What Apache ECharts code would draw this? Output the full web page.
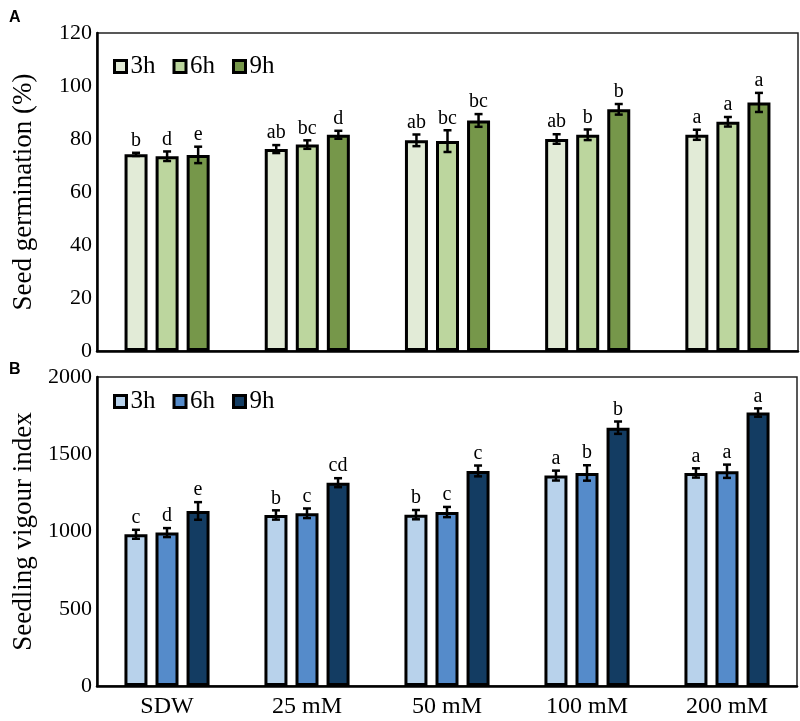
<!DOCTYPE html>
<html>
<head>
<meta charset="utf-8">
<script src="https://cdn.jsdelivr.net/npm/echarts@6/dist/echarts.min.js"></script>
<style>
  html, body { margin: 0; padding: 0; background: #fff; }
  #chart { width: 800px; height: 721px; }
</style>
</head>
<body>
<div id="chart"></div>
<script>
const categories = ['SDW', '25 mM', '50 mM', '100 mM', '200 mM'];
const seriesNames = ['3h', '6h', '9h'];

const germ3h = [74.2, 76.2, 79.5, 80.0, 81.6];
const germ6h = [73.5, 77.9, 79.2, 81.6, 86.5];
const germ9h = [74.0, 81.6, 87.0, 91.2, 93.8];
const germErr3h = [0.6, 1.5, 2.2, 1.8, 1.9];
const germErr6h = [1.8, 1.6, 4.1, 2.0, 1.8];
const germErr9h = [3.1, 1.5, 2.4, 2.0, 3.6];
const germSig3h = ['b', 'ab', 'ab', 'ab', 'a'];
const germSig6h = ['d', 'bc', 'bc', 'b', 'a'];
const germSig9h = ['e', 'd', 'bc', 'b', 'a'];

const vig3h = [982, 1107, 1109, 1362, 1379];
const vig6h = [993, 1118, 1126, 1379, 1390];
const vig9h = [1133, 1316, 1392, 1672, 1770];
const vigErr3h = [29, 30, 30, 32, 30];
const vigErr6h = [29, 31, 33, 50, 43];
const vigErr9h = [57, 29, 35, 40, 27];
const vigSig3h = ['c', 'b', 'b', 'a', 'a'];
const vigSig6h = ['d', 'c', 'c', 'b', 'a'];
const vigSig9h = ['e', 'cd', 'c', 'b', 'a'];

const germTicks = { min: 0, max: 120, interval: 20 };
const vigTicks = { min: 0, max: 2000, interval: 500 };

const greenColors = ['#e2ebd7', '#bcd69e', '#76974a'];
const blueColors = ['#b8d2eb', '#558bca', '#133c62'];

const SERIF = '"Liberation Serif", "Times New Roman", serif';
const BAR_W = 23;
const BAR_GAP = 0.35;
const STEP = BAR_W * (1 + BAR_GAP);

const chart = echarts.init(document.getElementById('chart'));

function barSeries(prefix, gridIdx, values, color) {
  return {
    type: 'bar',
    name: prefix + '-' + seriesNames[values.idx],
    xAxisIndex: gridIdx, yAxisIndex: gridIdx,
    data: values.data,
    barWidth: BAR_W,
    barGap: (BAR_GAP * 100) + '%',
    itemStyle: { color: color, borderColor: '#000', borderWidth: 3 },
    z: 2
  };
}

function errSeries(gridIdx, means, errs, sigs, seriesIdx) {
  const data = means.map((v, i) => [i, v, errs[i], sigs[i]]);
  return {
    type: 'custom',
    xAxisIndex: gridIdx, yAxisIndex: gridIdx,
    data: data,
    clip: false,
    z: 5,
    encode: { x: 0, y: 1 },
    renderItem: function (params, api) {
      const cat = api.value(0);
      const mean = api.value(1);
      const err = api.value(2);
      const off = (seriesIdx - 1) * STEP;
      const hi = api.coord([cat, mean + err]);
      const lo = api.coord([cat, mean - err]);
      const x = hi[0] + off;
      const cap = 4;
      const ls = { stroke: '#000', lineWidth: 2.5 };
      return {
        type: 'group',
        children: [
          { type: 'line', shape: { x1: x, y1: hi[1], x2: x, y2: lo[1] }, style: ls },
          { type: 'line', shape: { x1: x - cap, y1: hi[1], x2: x + cap, y2: hi[1] }, style: ls },
          { type: 'line', shape: { x1: x - cap, y1: lo[1], x2: x + cap, y2: lo[1] }, style: ls },
          { type: 'text', style: { text: data[params.dataIndex][3], x: x, y: hi[1] - 2, align: 'center', verticalAlign: 'bottom', font: '20px ' + SERIF, fill: '#000' } }
        ]
      };
    }
  };
}

const germSets = [germ3h, germ6h, germ9h];
const germErrs = [germErr3h, germErr6h, germErr9h];
const germSigs = [germSig3h, germSig6h, germSig9h];
const vigSets = [vig3h, vig6h, vig9h];
const vigErrs = [vigErr3h, vigErr6h, vigErr9h];
const vigSigs = [vigSig3h, vigSig6h, vigSig9h];

const series = [];
germSets.forEach((d, i) => series.push(barSeries('A', 0, { idx: i, data: d }, greenColors[i])));
vigSets.forEach((d, i) => series.push(barSeries('B', 1, { idx: i, data: d }, blueColors[i])));
germSets.forEach((d, i) => series.push(errSeries(0, d, germErrs[i], germSigs[i], i)));
vigSets.forEach((d, i) => series.push(errSeries(1, d, vigErrs[i], vigSigs[i], i)));

function legend(prefix, top) {
  return {
    data: seriesNames.map(n => prefix + '-' + n),
    formatter: name => name.slice(2),
    left: 113, top: top,
    icon: 'rect',
    itemWidth: 12, itemHeight: 12,
    itemGap: 17,
    padding: 0,
    selectedMode: false,
    itemStyle: { borderColor: '#000', borderWidth: 3 },
    textStyle: { fontFamily: SERIF, fontSize: 25, color: '#000', padding: [0, 0, 0, -1] }
  };
}

function yAxis(gridIdx, t, name) {
  return {
    type: 'value', gridIndex: gridIdx,
    min: t.min, max: t.max, interval: t.interval,
    name: name, nameLocation: 'middle', nameGap: 60,
    nameTextStyle: { fontFamily: SERIF, fontSize: 27, color: '#000' },
    axisLine: { show: true, lineStyle: { color: '#000', width: 2.5 } },
    axisTick: { show: false },
    splitLine: { show: false },
    axisLabel: { fontFamily: SERIF, fontSize: 22, color: '#000', margin: 5, formatter: v => String(v) }
  };
}

function xAxis(gridIdx, showLabels) {
  return {
    type: 'category', gridIndex: gridIdx, data: categories,
    axisLine: { show: true, lineStyle: { color: '#000', width: 2.5 } },
    axisTick: { show: false },
    axisLabel: { show: showLabels, fontFamily: SERIF, fontSize: 24, color: '#000', margin: 9 }
  };
}

const option = {
  animation: false,
  backgroundColor: '#fff',
  title: [
    { text: 'A', left: 4, top: 5, textStyle: { fontFamily: '"Liberation Sans", Arial, sans-serif', fontWeight: 'bold', fontSize: 16, color: '#000' } },
    { text: 'B', left: 4, top: 357, textStyle: { fontFamily: '"Liberation Sans", Arial, sans-serif', fontWeight: 'bold', fontSize: 16, color: '#000' } }
  ],
  legend: [legend('A', 54), legend('B', 389)],
  grid: [
    { left: 97, right: 2, top: 33, height: 318, show: true, borderColor: '#222', borderWidth: 1.5 },
    { left: 97, right: 3, top: 377, height: 309, show: true, borderColor: '#222', borderWidth: 1.5 }
  ],
  xAxis: [xAxis(0, false), xAxis(1, true)],
  yAxis: [yAxis(0, germTicks, 'Seed germination (%)'), yAxis(1, vigTicks, 'Seedling vigour index')],
  series: series
};

chart.setOption(option);
</script>
</body>
</html>
